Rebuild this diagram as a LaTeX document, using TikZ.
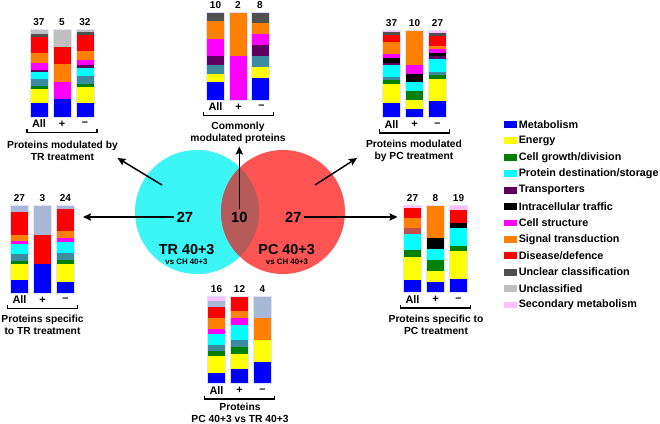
\documentclass[tikz,border=0pt]{standalone}
\usepackage{fontspec}
\setmainfont{Liberation Sans}
\usetikzlibrary{arrows.meta}
\definecolor{prblue}{HTML}{0000FF}
\definecolor{pryellow}{HTML}{FFFF00}
\definecolor{prgreen}{HTML}{008000}
\definecolor{prcyan}{HTML}{00FFFF}
\definecolor{prpurple}{HTML}{5E005E}
\definecolor{prblack}{HTML}{000000}
\definecolor{prmagenta}{HTML}{FF00FF}
\definecolor{prorange}{HTML}{FF8000}
\definecolor{prred}{HTML}{FF0000}
\definecolor{prdgray}{HTML}{505050}
\definecolor{prlgray}{HTML}{C0C0C0}
\definecolor{prpink}{HTML}{FFC0FF}
\definecolor{prteal}{HTML}{3C8CA0}
\definecolor{prlav}{HTML}{A8B8D8}
\definecolor{prbrown}{HTML}{C0504D}
\definecolor{venncyan}{HTML}{3CF5F5}
\definecolor{vennred}{HTML}{FF5454}
\definecolor{vennlens}{HTML}{B65A5A}

\newcommand{\barw}{18}
\newcommand{\barh}{87.5}
\newcommand{\barp}{23}

% one stacked bar: name, left x, top y, count, colour/count from the bottom
\newcommand{\pbar}[5]{%
    \gdef\pcum{0}
    \foreach \bcol/\bnum in {#5}{
        \pgfmathsetmacro\pa{#3+\barh-\pcum*\barh/#4}
        \pgfmathsetmacro\pcumnew{\pcum+\bnum}
        \pgfmathsetmacro\pb{#3+\barh-\pcumnew*\barh/#4}
        \fill[\bcol] (#2,\pa) rectangle ({#2+\barw},\pb);
        \xdef\pcum{\pcumnew}
    }
    \draw[barframe] (#2,#3) rectangle ({#2+\barw},{#3+\barh});
    \node[cnt] (#1) at ({#2+\barw/2},{#3-7}) {#4};
}
% All / + / - labels and the bracket under them
\newcommand{\pfoot}[3]{%
    \node[lab] (#1-all) at ({#2+\barw/2},{#3+94.5}) {All};
    \node[lab] (#1-pos) at ({#2+\barw/2+\barp},{#3+94.5}) {+};
    \node[lab] (#1-neg) at ({#2+\barw/2+2*\barp},{#3+94.5}) {--};
    \draw[brack] ({#2-3},{#3+99.5}) -- ({#2-3},{#3+103}) -- ({#2+2*\barp+\barw+3},{#3+103}) -- ({#2+2*\barp+\barw+3},{#3+99.5});
}

\tikzset{
    barframe/.style={draw=blue!12, line width=0.4pt},
    cnt/.style={font=\fontsize{7.5}{9}\selectfont\bfseries, inner sep=0pt},
    lab/.style={font=\fontsize{8.2}{9}\selectfont\bfseries, inner sep=0pt},
    ttl/.style={font=\fontsize{7.7}{9}\selectfont\bfseries, align=center, inner sep=0pt},
    brack/.style={line width=0.8pt},
    vnum/.style={font=\fontsize{11}{13}\selectfont\bfseries, inner sep=2pt},
    vlab/.style={font=\fontsize{10.8}{12}\selectfont\bfseries, inner sep=0pt},
    vsub/.style={font=\fontsize{5.9}{7}\selectfont\bfseries, inner sep=0pt},
    leg/.style={font=\fontsize{8.1}{9}\selectfont\bfseries, inner sep=0pt, anchor=west},
    arr/.style={-{Stealth[length=6pt, width=5.5pt, inset=1pt]}, line width=1.1pt}
}

\begin{document}
\begin{tikzpicture}[x=0.75pt, y=-0.75pt]
    \useasboundingbox (0,0) rectangle (660,424);

    % Venn diagram
    \fill[venncyan] (197,212) circle[radius=62];
    \fill[vennred] (283,212) circle[radius=62];
    \begin{scope}
        \clip (197,212) circle[radius=62];
        \fill[vennlens] (283,212) circle[radius=62];
    \end{scope}
    \node[vnum] (trn) at (185,217) {27};
    \node[vnum] (cmn) at (239.3,217) {10};
    \node[vnum] (pcn) at (293.3,217) {27};
    \node[vlab] (trl) at (186.7,249.3) {TR 40+3};
    \node[vsub] (trs) at (186.5,261.7) {vs CH 40+3};
    \node[vlab] (pcl) at (286.7,249.3) {PC 40+3};
    \node[vsub] (pcs) at (287,261.7) {vs CH 40+3};

    \coordinate (trs-in) at (83,217);
    \coordinate (pcs-in) at (397.5,217);
    \coordinate (cmm-in) at (239.3,146.5);
    \coordinate (trd) at (162,185);
    \coordinate (trm-in) at (117.5,158);
    \coordinate (pcd) at (315,185);
    \coordinate (pcm-in) at (357,158);
    \draw[arr] (trn.west) -- (trs-in);
    \draw[arr] (pcn.east) -- (pcs-in);
    \draw[arr] (cmn.north) -- (cmm-in);
    \draw[arr] (trd) -- (trm-in);
    \draw[arr] (pcd) -- (pcm-in);

    % TR modulated
    \pbar{trm-a}{30}{29.5}{37}{prblue/6, pryellow/6, prgreen/1, prteal/3, prcyan/3, prpurple/1, prmagenta/3, prorange/4, prred/7, prdgray/1, prlgray/2}
    \pbar{trm-p}{53}{29.5}{5}{prblue/1, prmagenta/1, prorange/1, prred/1, prlgray/1}
    \pbar{trm-m}{76}{29.5}{32}{prblue/5, pryellow/6, prgreen/1, prteal/3, prcyan/3, prpurple/1, prmagenta/2, prorange/3, prred/6, prdgray/1, prlgray/1}
    \pfoot{trm}{30}{29.5}
    \node[ttl] (trm-t) at (62.5,151) {Proteins modulated by\\TR treatment};

    % commonly modulated
    \pbar{cmm-a}{206.5}{12.5}{10}{prblue/2, pryellow/1, prteal/1, prpurple/1, prmagenta/2, prorange/2, prdgray/1}
    \pbar{cmm-p}{229}{12.5}{2}{prmagenta/1, prorange/1}
    \pbar{cmm-m}{251}{12.5}{8}{prblue/2, pryellow/1, prteal/1, prpurple/1, prmagenta/1, prorange/1, prdgray/1}
    \pfoot{cmm}{206.5}{12.5}
    \node[ttl] (cmm-t) at (238,132.5) {Commonly\\modulated proteins};

    % PC modulated
    \pbar{pcm-a}{382.5}{30}{37}{prblue/6, pryellow/8, prgreen/2, prteal/1, prcyan/5, prpurple/1, prblack/2, prmagenta/2, prorange/5, prred/3, prdgray/1, prpink/1}
    \pbar{pcm-p}{405.5}{30}{10}{prblue/1, pryellow/1, prgreen/1, prcyan/1, prblack/1, prmagenta/1, prorange/4}
    \pbar{pcm-m}{428.5}{30}{27}{prblue/5, pryellow/7, prgreen/1, prteal/1, prcyan/4, prpurple/1, prblack/1, prmagenta/1, prorange/1, prred/3, prdgray/1, prpink/1}
    \pfoot{pcm}{382.5}{30}
    \node[ttl] (pcm-t) at (414,151) {Proteins modulated\\by PC treatment};

    % TR specific
    \pbar{trs-a}{10.5}{205.5}{27}{prblue/4, pryellow/5, prgreen/1, prteal/2, prcyan/3, prmagenta/1, prorange/2, prred/7, prlav/2}
    \pbar{trs-p}{33.5}{205.5}{3}{prblue/1, prred/1, prlav/1}
    \pbar{trs-m}{56.5}{205.5}{24}{prblue/3, pryellow/5, prgreen/1, prteal/2, prcyan/3, prmagenta/1, prorange/2, prred/6, prlav/1}
    \pfoot{trs}{10.5}{205.5}
    \node[ttl] (trs-t) at (42.5,325) {Proteins specific\\to TR treatment};

    % PC specific
    \pbar{pcs-a}{403.5}{205}{27}{prblue/4, pryellow/7, prgreen/2, prcyan/5, prbrown/2, prorange/3, prred/3, prpink/1}
    \pbar{pcs-p}{426.5}{205}{8}{prblue/1, pryellow/1, prgreen/1, prcyan/1, prblack/1, prorange/3}
    \pbar{pcs-m}{449.5}{205}{19}{prblue/3, pryellow/6, prgreen/1, prcyan/4, prblack/1, prred/3, prpink/1}
    \pfoot{pcs}{403.5}{205}
    \node[ttl] (pcs-t) at (436,325) {Proteins specific to\\PC treatment};

    % PC vs TR
    \pbar{pvt-a}{207.5}{296}{16}{prblue/2, pryellow/3, prgreen/1, prteal/1, prcyan/2, prmagenta/1, prorange/2, prred/2, prlav/1, prpink/1}
    \pbar{pvt-p}{230.5}{296}{12}{prblue/2, pryellow/2, prgreen/1, prteal/1, prcyan/2, prmagenta/1, prorange/1, prred/2}
    \pbar{pvt-m}{253.5}{296}{4}{prblue/1, pryellow/1, prorange/1, prlav/1}
    \pfoot{pvt}{207.5}{296}
    \node[ttl] (pvt-t) at (240,412.5) {Proteins\\PC 40+3 vs TR 40+3};

    % legend
    \foreach \col/\txt [count=\i] in {prblue/Metabolism, pryellow/Energy, prgreen/{Cell growth/division}, prcyan/{Protein destination/storage}, prpurple/Transporters, prblack/{Intracellular traffic}, prmagenta/{Cell structure}, prorange/{Signal transduction}, prred/{Disease/defence}, prdgray/{Unclear classification}, prlgray/Unclassified, prpink/{Secondary metabolism}} {
        \pgfmathsetmacro\ly{124.5+16.4*(\i-1)}
        \fill[\col] (503.5,{\ly-3.4}) rectangle (516.5,{\ly+3.4});
        \node[leg] (leg-\i) at (518.5,\ly) {\txt};
    }
\end{tikzpicture}
\end{document}
